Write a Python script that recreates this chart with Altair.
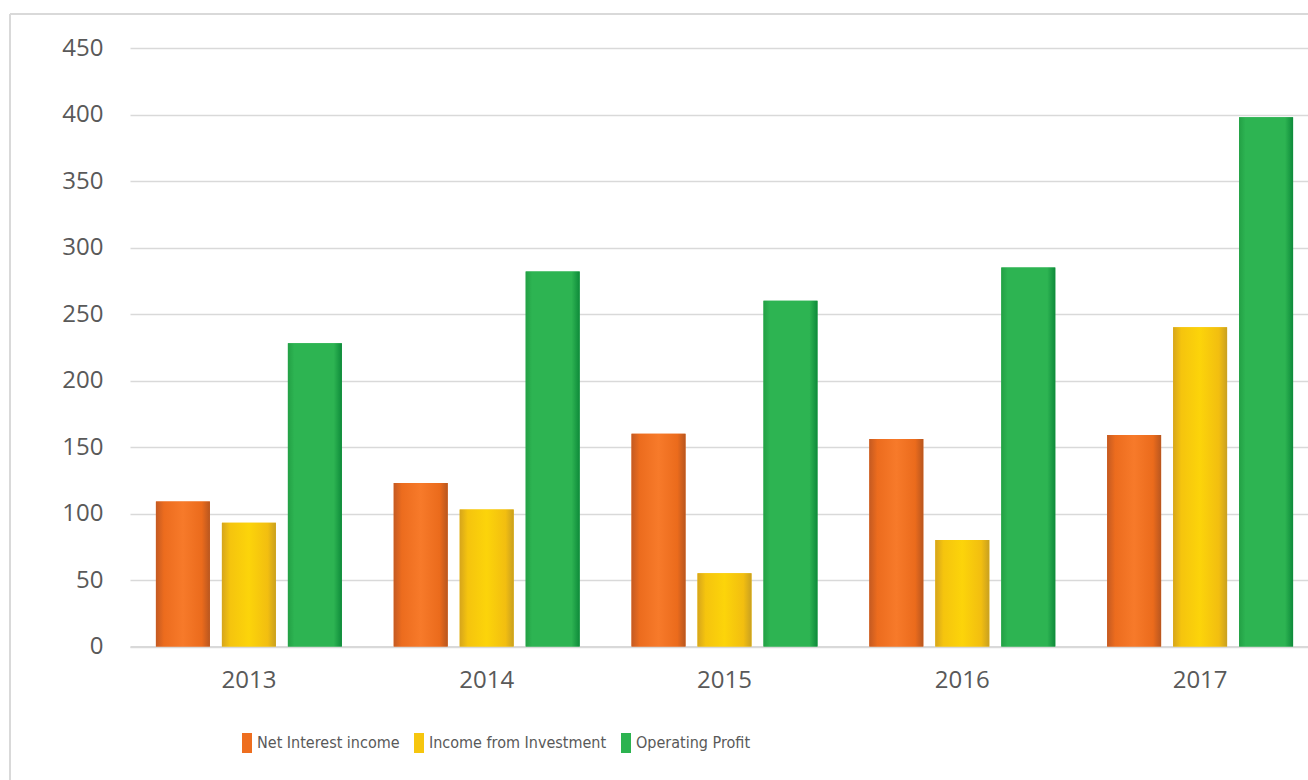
import altair as alt
import pandas as pd

years = ["2013", "2014", "2015", "2016", "2017"]
series = ["Net Interest income", "Income from Investment", "Operating Profit"]
net_interest = [109, 123, 160, 156, 159]
income_investment = [93, 103, 55, 80, 240]
operating_profit = [228, 282, 260, 285, 398]
y_ticks = [0, 50, 100, 150, 200, 250, 300, 350, 400, 450]
series_colors = ["#ee6e1f", "#f6c60e", "#2cb350"]

rows = []
for name, vals in zip(series, [net_interest, income_investment, operating_profit]):
    for yr, v in zip(years, vals):
        rows.append({"Year": yr, "Series": name, "Value": v})
df = pd.DataFrame(rows)

FONT = "Open Sans"
LABEL_COLOR = "#595959"
GRID = "#d9d9d9"

x_enc = alt.X(
    "Year:N",
    sort=years,
    scale=alt.Scale(range=[0, 1189], paddingInner=0.218, paddingOuter=0.109),
    axis=alt.Axis(
        title=None, labelAngle=0, ticks=False, grid=False,
        domainColor=GRID, domainWidth=2, labelPadding=22,
        labelFontSize=24, labelColor=LABEL_COLOR, labelFont=FONT,
    ),
)
xo_enc = alt.XOffset(
    "Series:N", sort=series,
    scale=alt.Scale(domain=series, paddingInner=0.1818, paddingOuter=0),
)
y_enc = alt.Y(
    "Value:Q",
    scale=alt.Scale(domain=[0, 450]),
    axis=alt.Axis(
        title=None, values=y_ticks, ticks=False, domain=False,
        gridColor=GRID, gridWidth=1.5, labelFontSize=24,
        labelColor=LABEL_COLOR, labelFont=FONT, labelPadding=27,
    ),
)

base = alt.Chart(df).mark_bar().encode(
    x=x_enc,
    xOffset=xo_enc,
    y=y_enc,
    color=alt.Color(
        "Series:N", sort=series,
        scale=alt.Scale(domain=series, range=series_colors),
        legend=alt.Legend(
            orient="none", legendX=107, legendY=685, direction="horizontal",
            title=None, symbolType="M-0.5,-1H0.5V1H-0.5Z", symbolSize=400,
            symbolStrokeWidth=0, labelFontSize=16, labelLimit=0,
            labelFont="Liberation Sans Narrow, DejaVu Sans Condensed, Open Sans",
            labelColor=LABEL_COLOR, labelOffset=0, columnPadding=9,
        ),
    ),
)

gradients = [
    [("#c45a22", 0), ("#ec6c1e", 0.15), ("#f77a2a", 0.5), ("#eb6b1c", 0.85), ("#b8561f", 1)],
    [("#d6a51c", 0), ("#f5c40e", 0.15), ("#fcd40a", 0.5), ("#f2be10", 0.85), ("#c9a020", 1)],
    [("#23a045", 0), ("#2db452", 0.12), ("#2db452", 0.85), ("#0e8a3a", 1)],
]

layers = [base]
for name, stops in zip(series, gradients):
    grad = alt.LinearGradient(
        gradient="linear",
        stops=[alt.GradientStop(color=c, offset=o) for c, o in stops],
        x1=0, x2=1, y1=0, y2=0,
    )
    layers.append(
        alt.Chart(df)
        .transform_filter(alt.datum.Series == name)
        .mark_bar(color=grad)
        .encode(x=x_enc, xOffset=xo_enc, y=y_enc)
    )

frame = alt.Data(values=[{"k": 1}])
border_v = alt.Chart(frame).mark_rule(color=GRID, strokeWidth=2).encode(
    x=alt.value(-120), y=alt.value(-34), y2=alt.value(740)
)
border_h = alt.Chart(frame).mark_rule(color=GRID, strokeWidth=2).encode(
    x=alt.value(-120), x2=alt.value(1250), y=alt.value(-34)
)

chart = (
    alt.layer(border_v, border_h, *layers)
    .properties(
        width=1178, height=598.5,
        autosize=alt.AutoSizeParams(type="none"),
        padding={"left": 130, "top": 48, "right": 0, "bottom": 133},
        background="white",
    )
    .configure_view(stroke=None)
)

chart.save("out.html", embed_options={"renderer": "svg", "actions": False})
